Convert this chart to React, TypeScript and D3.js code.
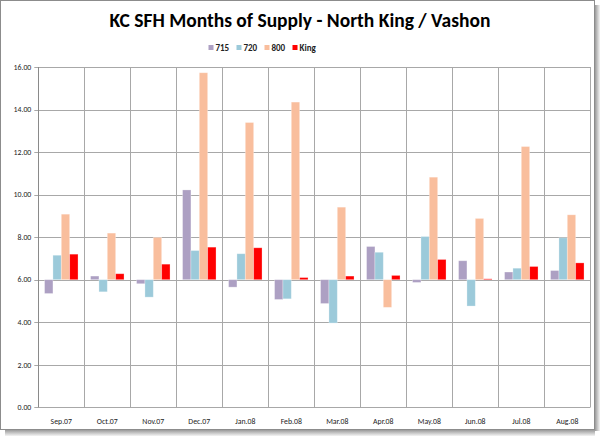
import React from "react";
import * as d3 from "d3";

const categories = ["Sep.07","Oct.07","Nov.07","Dec.07","Jan.08","Feb.08","Mar.08","Apr.08","May.08","Jun.08","Jul.08","Aug.08"];
const seriesNames = ["715","720","800","King"];
const s715 = [5.35,6.17,5.81,10.22,5.65,5.07,4.88,7.56,5.87,6.89,6.36,6.43];
const s720 = [7.15,5.43,5.18,7.37,7.22,5.10,3.96,7.29,8.03,4.76,6.54,7.97];
const s800 = [9.08,8.19,7.99,15.73,13.39,14.35,9.41,4.70,10.82,8.88,12.26,9.05];
const sKing = [7.20,6.28,6.73,7.53,7.50,6.10,6.17,6.20,6.95,6.04,6.62,6.79];
const yTicks = [0,2,4,6,8,10,12,14,16];
const seriesColors = ["#ADA0C3","#9CCADA","#F9BE9D","#FF0000"];
const baseValue = 6;

export default function App() {
  const W = 600, H = 436;
  const left = 38.3, right = 590.3, top = 67, bottom = 407.3;
  const data = [s715, s720, s800, sKing];
  const y = d3.scaleLinear().domain([0, 16]).range([bottom, top]);
  const x0 = d3.scaleBand<string>().domain(categories).range([left, right])
    .paddingInner(1.5 / 5.5).paddingOuter(0.75 / 5.5);
  const x1 = d3.scaleBand<string>().domain(seriesNames).range([0, x0.bandwidth()]);
  const step = x0.step();
  const font = "Calibri, Carlito, 'Open Sans', Arial, sans-serif";
  return (
    <div style={{ position: "absolute", left: 0, top: 0 }}>
      <svg width={W} height={H} style={{ display: "block" }}>
        <defs>
          <linearGradient id="shR" x1="0" x2="1" y1="0" y2="0">
            <stop offset="0" stopColor="#9a9a9a" />
            <stop offset="1" stopColor="#f4f4f4" />
          </linearGradient>
          <linearGradient id="shB" x1="0" x2="0" y1="0" y2="1">
            <stop offset="0" stopColor="#9a9a9a" />
            <stop offset="1" stopColor="#f4f4f4" />
          </linearGradient>
        </defs>
        <rect x={0} y={0} width={W} height={H} fill="#ffffff" />
        <rect x={595} y={5} width={5} height={426} fill="url(#shR)" />
        <rect x={5} y={430} width={590} height={6} fill="url(#shB)" />
        <rect x={0.5} y={0.5} width={594} height={429} fill="#ffffff" stroke="#8c8c8c" strokeWidth={1} />
        <text x={300} y={27} textAnchor="middle" fontFamily={font} fontWeight="bold" fontSize={19.5} fill="#000">
          KC SFH Months of Supply - North King / Vashon
        </text>
        {/* legend */}
        {seriesNames.map((s, i) => {
          const xs = [208.5, 236.5, 264.5, 292.5][i];
          return (
            <g key={s}>
              <rect x={xs} y={45} width={5} height={5} fill={seriesColors[i]} />
              <text x={xs + 7} y={51} fontFamily={font} fontWeight="bold" fontSize={9} fill="#222">{s}</text>
            </g>
          );
        })}
        {/* horizontal gridlines */}
        {yTicks.map((t) => (
          <g key={t}>
            <line x1={left - 4} x2={right} y1={Math.round(y(t)) + 0.5} y2={Math.round(y(t)) + 0.5}
              stroke="#a8a8a8" strokeWidth={1} />
            <text x={left - 7} y={y(t) + 2.8} textAnchor="end" fontFamily={font} fontSize={7.8} fill="#222">
              {t.toFixed(2)}
            </text>
          </g>
        ))}
        {/* vertical gridlines */}
        {d3.range(categories.length + 1).map((i) => (
          <line key={i} x1={Math.round(left + i * step) + 0.5} x2={Math.round(left + i * step) + 0.5}
            y1={top} y2={bottom} stroke="#a8a8a8" strokeWidth={1} />
        ))}
        {/* bars */}
        {categories.map((c, ci) => (
          <g key={c}>
            {seriesNames.map((s, si) => {
              const v = data[si][ci];
              const yA = y(Math.max(v, baseValue));
              const yB = y(Math.min(v, baseValue));
              return (
                <rect key={s} x={(x0(c) as number) + (x1(s) as number)} y={yA}
                  width={x1.bandwidth()} height={Math.max(0.5, yB - yA)}
                  fill={seriesColors[si]} stroke="#ffffff" strokeOpacity={0.35} strokeWidth={0.8} />
              );
            })}
            <text x={(x0(c) as number) + x0.bandwidth() / 2} y={424} textAnchor="middle"
              fontFamily={font} fontSize={7.8} fill="#222">{c}</text>
          </g>
        ))}
        <line x1={Math.round(left) + 0.5} x2={Math.round(left) + 0.5} y1={top} y2={bottom} stroke="#8a8a8a" strokeWidth={1} />
      </svg>
    </div>
  );
}
